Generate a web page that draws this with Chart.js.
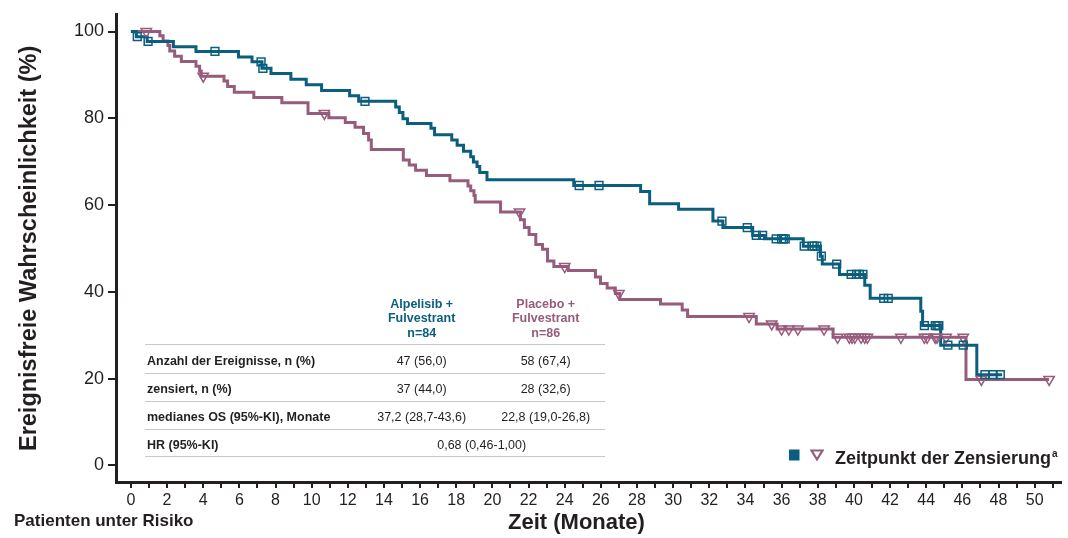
<!DOCTYPE html>
<html>
<head>
<meta charset="utf-8">
<script src="https://cdn.jsdelivr.net/npm/chart.js@4/dist/chart.umd.min.js"></script>
<style>
  html, body { margin: 0; padding: 0; background: #fff; }
  #wrap { position: relative; width: 1068px; height: 538px; font-family: 'Liberation Sans', Arial, sans-serif; color: #231f20; }
  #c { position: absolute; left: 0; top: 0; }
  .ov { position: absolute; white-space: nowrap; }
  .b { font-weight: bold; }
  .hdr { font-size: 12.5px; line-height: 14.3px; font-weight: bold; text-align: center; width: 140px; }
  .cell { font-size: 12.5px; line-height: 16px; height: 16px; }
  .ctr { text-align: center; width: 140px; }
  .rule { position: absolute; left: 145px; width: 460px; height: 0; border-top: 1.5px solid #c8c8c8; }
</style>
</head>
<body>
<div id="wrap">
  <canvas id="c" width="1068" height="538"></canvas>
</div>
<script>
// ---- data ----
const blueEventTimes = [0.3, 0.9, 2.35, 3.6, 5.95, 6.7, 7.25, 7.75, 8.85, 9.7, 10.55, 12.1, 12.6, 14.65, 14.85, 15.05, 15.3, 16.6, 16.8, 17.75, 18.05, 18.4, 18.8, 18.95, 19.15, 19.3, 19.7, 24.5, 28.2, 28.7, 30.3, 32.2, 32.75, 34.4, 35.05, 37.2, 38.15, 38.25, 39.2, 40.6, 40.9, 43.7, 43.8, 44.8, 46.8];
const blueSurvival = [98.8, 97.7, 96.5, 95.4, 94.1, 93.0, 91.5, 90.3, 89.0, 87.7, 86.4, 85.2, 83.9, 82.6, 81.3, 79.9, 78.8, 77.7, 76.2, 75.0, 73.8, 72.4, 71.1, 69.9, 68.9, 67.5, 65.8, 64.5, 63.1, 60.3, 59.0, 56.3, 54.8, 53.0, 52.2, 50.5, 48.2, 46.4, 44.0, 41.5, 38.5, 35.5, 32.2, 27.7, 20.9];
const blueEnd = 48.2;
const blueCensorTimes = [0.35, 0.95, 4.65, 7.2, 7.3, 12.95, 24.8, 25.9, 32.7, 34.1, 34.6, 34.95, 35.7, 36.0, 36.1, 36.2, 37.25, 37.7, 37.8, 37.95, 38.2, 39.05, 39.85, 40.15, 40.3, 40.5, 41.65, 41.9, 43.9, 44.5, 44.6, 44.7, 45.2, 46.05, 47.25, 47.7, 48.1];

const pinkEventTimes = [1.6, 1.78, 2.05, 2.15, 2.42, 2.79, 3.6, 3.8, 3.89, 5.15, 5.35, 5.72, 6.8, 8.35, 9.8, 10.95, 11.86, 12.4, 12.87, 13.15, 13.3, 15.07, 15.4, 15.75, 16.35, 17.65, 18.65, 18.8, 18.98, 19.05, 20.45, 21.55, 21.77, 22.03, 22.4, 22.77, 23.05, 23.4, 24.2, 25.7, 25.98, 26.35, 26.8, 27.05, 29.3, 30.5, 30.8, 34.6, 35.75, 38.85, 46.2];
const pinkSurvival = [99.0, 97.8, 96.8, 95.5, 94.3, 93.1, 92.0, 90.9, 89.7, 88.6, 87.3, 86.0, 84.8, 83.6, 81.1, 80.1, 79.0, 77.9, 76.5, 75.0, 72.8, 70.4, 69.2, 68.0, 66.8, 65.6, 64.4, 63.3, 62.2, 60.7, 58.4, 56.6, 54.8, 53.2, 50.9, 49.8, 47.1, 45.8, 44.9, 43.4, 41.9, 40.9, 39.6, 38.2, 37.2, 35.8, 34.3, 32.6, 31.4, 29.5, 19.8];
const pinkEnd = 50.8;
const pinkCensorTimes = [0.85, 4.0, 10.7, 21.5, 24.0, 27.0, 34.2, 35.45, 36.0, 36.4, 36.9, 38.35, 39.1, 39.75, 39.9, 40.05, 40.4, 40.6, 40.75, 42.6, 43.9, 44.05, 44.5, 44.6, 45.1, 46.05, 47.05, 50.8];

const xTickLabels = [0, 2, 4, 6, 8, 10, 12, 14, 16, 18, 20, 22, 24, 26, 28, 30, 32, 34, 36, 38, 40, 42, 44, 46, 48, 50];
const yTickLabels = [0, 20, 40, 60, 80, 100];

const seriesNames = ['Alpelisib + Fulvestrant', 'Placebo + Fulvestrant'];
const tableRows = [
  ['Anzahl der Ereignisse, n (%)', '47 (56,0)', '58 (67,4)'],
  ['zensiert, n (%)', '37 (44,0)', '28 (32,6)'],
  ['medianes OS (95%-KI), Monate', '37,2 (28,7-43,6)', '22,8 (19,0-26,8)']
];
const hrRow = ['HR (95%-KI)', '0,68 (0,46-1,00)'];

// ---- styling ----
const BLUE = '#0b5e7e';
const PINK = '#975b7c';
const INK = '#231f20';
const FONT = "'Liberation Sans', Arial, sans-serif";

function curve(times, surv, end) {
  const pts = [{x: 0, y: 100}];
  times.forEach((t, i) => pts.push({x: t, y: surv[i]}));
  pts.push({x: end, y: surv[surv.length - 1]});
  return pts;
}
function survAt(times, surv, t) {
  let s = 100;
  for (let i = 0; i < times.length; i++) if (times[i] <= t) s = surv[i];
  return s;
}
function censors(ct, times, surv) {
  return ct.map(t => ({x: t, y: survAt(times, surv, t)}));
}

new Chart(document.getElementById('c'), {
  type: 'scatter',
  data: {
    datasets: [
      { label: seriesNames[0] + ' (zensiert)', data: censors(blueCensorTimes, blueEventTimes, blueSurvival),
        pointStyle: 'rect', pointRadius: 5.5, borderColor: BLUE, backgroundColor: 'rgba(255,255,255,0)', pointBorderWidth: 1.5, showLine: false },
      { label: seriesNames[1] + ' (zensiert)', data: censors(pinkCensorTimes, pinkEventTimes, pinkSurvival),
        pointStyle: 'triangle', rotation: 180, pointRadius: 6, borderColor: PINK, backgroundColor: 'rgba(255,255,255,0)', pointBorderWidth: 1.5, showLine: false },
      { label: seriesNames[0], data: curve(blueEventTimes, blueSurvival, blueEnd), showLine: true, stepped: 'before',
        borderColor: BLUE, borderWidth: 3, pointRadius: 0, fill: false },
      { label: seriesNames[1], data: curve(pinkEventTimes, pinkSurvival, pinkEnd), showLine: true, stepped: 'before',
        borderColor: PINK, borderWidth: 3, pointRadius: 0, fill: false }
    ]
  },
  options: {
    responsive: false,
    animation: false,
    devicePixelRatio: 1,
    events: [],
    layout: { padding: { top: 6, right: 2, left: 0, bottom: 0 } },
    plugins: { legend: { display: false }, tooltip: { enabled: false } },
    scales: {
      x: {
        type: 'linear', min: -0.825, max: 51.43,
        afterFit: s => { s.height = 56; },
        border: { display: true, width: 3, color: INK },
        grid: { drawOnChartArea: false, drawTicks: true, tickLength: 6, color: INK, lineWidth: 2 },
        ticks: {
          stepSize: 1, includeBounds: false, autoSkip: false, maxRotation: 0, padding: 3,
          color: INK, font: { family: FONT, size: 16 },
          callback: v => xTickLabels.includes(v) ? String(v) : ''
        },
        title: { display: false }
      },
      y: {
        type: 'linear', min: -3.85, max: 103.85,
        afterFit: s => { s.width = 116; },
        border: { display: true, width: 3, color: INK },
        grid: { drawOnChartArea: false, drawTicks: true, tickLength: 8, color: INK, lineWidth: 2 },
        ticks: {
          stepSize: 20, includeBounds: false, padding: 4,
          color: INK, font: { family: FONT, size: 18 },
          callback: v => yTickLabels.includes(v) ? String(v) : ''
        },
        title: { display: true, text: 'Ereignisfreie Wahrscheinlichkeit (%)', color: INK,
          font: { family: FONT, size: 23.5, weight: 'bold' }, padding: { top: 15, bottom: 0 } }
      }
    }
  }
});

// ---- overlay text (table, legend, x title) ----
const wrap = document.getElementById('wrap');
function add(html, cls, css) {
  const d = document.createElement('div');
  d.className = 'ov ' + (cls || '');
  d.innerHTML = html;
  Object.assign(d.style, css);
  wrap.appendChild(d);
  return d;
}
const n1 = 'n=84', n2 = 'n=86';
const hdr1 = seriesNames[0].split(' ');
const hdr2 = seriesNames[1].split(' ');
add(hdr1[0] + ' +<br>' + hdr1[2] + '<br>' + n1, 'hdr', { left: (421.7 - 70) + 'px', top: '297px', color: BLUE });
add(hdr2[0] + ' +<br>' + hdr2[2] + '<br>' + n2, 'hdr', { left: (545.7 - 70) + 'px', top: '297px', color: PINK });

const ruleYs = [345, 373.3, 401.7, 429.3, 456.7];
ruleYs.forEach(y => { const r = document.createElement('div'); r.className = 'rule'; r.style.top = (y - 0.75) + 'px'; wrap.appendChild(r); });
const rowYs = [361, 389, 416.7];
tableRows.forEach((row, i) => {
  add(row[0], 'cell b', { left: '147px', top: (rowYs[i] - 8) + 'px' });
  add(row[1], 'cell ctr', { left: (421.7 - 70) + 'px', top: (rowYs[i] - 8) + 'px' });
  add(row[2], 'cell ctr', { left: (545.7 - 70) + 'px', top: (rowYs[i] - 8) + 'px' });
});
add(hrRow[0], 'cell b', { left: '147px', top: (445 - 8) + 'px' });
add(hrRow[1], 'cell ctr', { left: (481.7 - 70) + 'px', top: (445 - 8) + 'px' });

// legend
add('<svg width="12" height="12" style="display:block"><rect x="0" y="0.5" width="10.5" height="11" fill="' + BLUE + '"/></svg>', '', { left: '789px', top: '449px' });
add('<svg width="14" height="13" style="display:block"><polygon points="1.5,1.5 12.5,1.5 7,10.5" fill="none" stroke="' + PINK + '" stroke-width="2.2" stroke-linejoin="miter"/></svg>', '', { left: '810px', top: '449px' });
add('Zeitpunkt der Zensierung<sup style="font-size:10px;vertical-align:7px;margin-left:1px">a</sup>', 'b', { left: '835px', top: '444px', fontSize: '18px', lineHeight: '20px' });

// x-axis title and risk label
add('Zeit (Monate)', 'b', { left: '508px', top: '509px', fontSize: '22px', lineHeight: '26px' });
add('Patienten unter Risiko', 'b', { left: '14px', top: '511px', fontSize: '17px', lineHeight: '20px' });
</script>
</body>
</html>
